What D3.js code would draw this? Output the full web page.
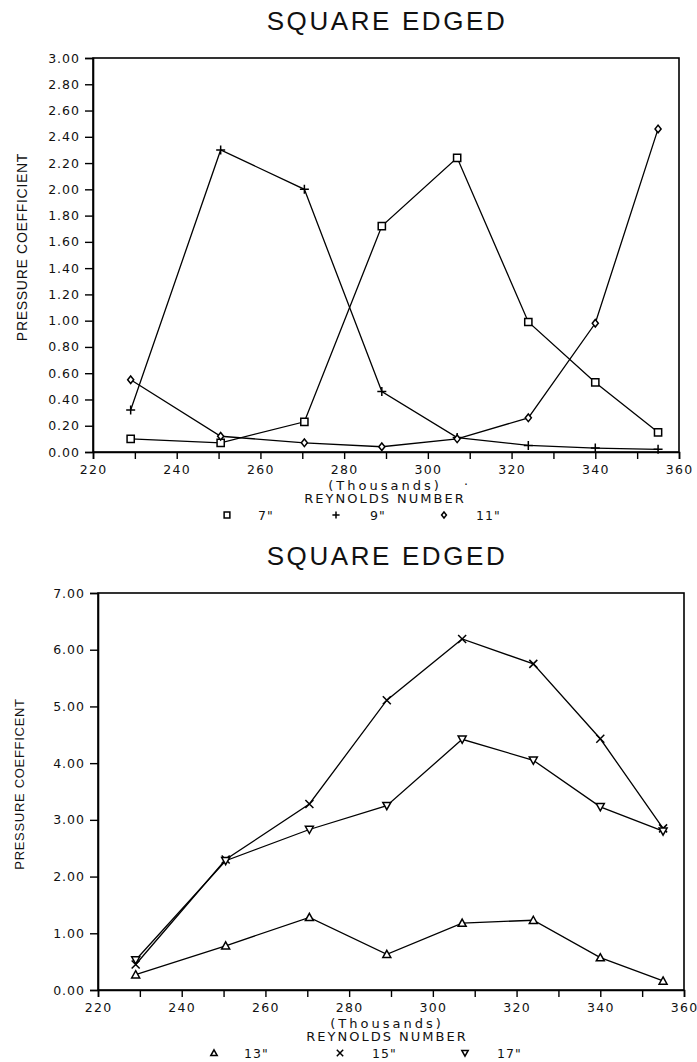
<!DOCTYPE html>
<html><head><meta charset="utf-8">
<script src="https://cdn.jsdelivr.net/npm/d3@7"></script>
<style>body{margin:0;background:#fff}</style>
</head><body>
<svg id="c" width="697" height="1062"></svg>
<script>
// ---- data ----
const reynolds = [229, 250.5, 270.5, 289, 307, 324, 340, 355]; // thousands
const xTickMinor = [220,230,240,250,260,270,280,290,300,310,320,330,340,350,360];
const xTickLabels = ["220","240","260","280","300","320","340","360"];
const topYTickLabels = ["0.00","0.20","0.40","0.60","0.80","1.00","1.20","1.40","1.60","1.80","2.00","2.20","2.40","2.60","2.80","3.00"];
const bottomYTickLabels = ["0.00","1.00","2.00","3.00","4.00","5.00","6.00","7.00"];

const top7in  = [0.10, 0.07, 0.23, 1.72, 2.24, 0.99, 0.53, 0.15];
const top9in  = [0.32, 2.30, 2.00, 0.46, 0.11, 0.05, 0.03, 0.02];
const top11in = [0.55, 0.12, 0.07, 0.04, 0.10, 0.26, 0.98, 2.46];

const bot13in = [0.27, 0.78, 1.28, 0.63, 1.18, 1.23, 0.57, 0.16];
const bot15in = [0.45, 2.30, 3.28, 5.11, 6.19, 5.75, 4.43, 2.85];
const bot17in = [0.53, 2.28, 2.83, 3.25, 4.42, 4.05, 3.23, 2.80];

const topLegendLabels = ['7"', '9"', '11"'];
const bottomLegendLabels = ['13"', '15"', '17"'];

// ---- symbols ----
const sym = {
  square: s => `M${-s},${-s}H${s}V${s}H${-s}Z`,
  plus: s => `M${-s},0H${s}M0,${-s}V${s}`,
  diamond: s => `M0,${-s}L${s*0.8},0L0,${s}L${-s*0.8},0Z`,
  triUp: s => `M0,${-s}L${s},${s*0.8}L${-s},${s*0.8}Z`,
  cross: s => `M${-s},${-s}L${s},${s}M${s},${-s}L${-s},${s}`,
  triDown: s => `M0,${s}L${s},${-s*0.8}L${-s},${-s*0.8}Z`
};
const symSize = {square:3.6, plus:4.5, diamond:3.8, triUp:4, cross:4, triDown:4};
const filled = {square:true, diamond:true, triUp:true, triDown:true, plus:false, cross:false};

const svg = d3.select("#c");
const numFont = "DejaVu Sans";
const labFont = "Liberation Sans, Arial, sans-serif";

function panel(cfg) {
  const x = d3.scaleLinear().domain([220, 360]).range([cfg.left, cfg.right]);
  const y = d3.scaleLinear().domain([0, cfg.yMax]).range([cfg.bottom, cfg.top]);
  const g = svg.append("g");

  // title
  g.append("text").attr("x", cfg.titleX).attr("y", cfg.titleY)
    .attr("text-anchor", "middle").attr("font-family", labFont)
    .attr("font-size", 26).attr("letter-spacing", 2.6).attr("fill", "#111")
    .text("SQUARE EDGED");

  // frame
  g.append("rect").attr("x", cfg.left).attr("y", cfg.top)
    .attr("width", cfg.right - cfg.left).attr("height", cfg.bottom - cfg.top)
    .attr("fill", "none").attr("stroke", "#000").attr("stroke-width", 1.6);

  // y axis
  const yVals = cfg.yLabels.map(d => +d);
  const ya = g.append("g").attr("transform", `translate(${cfg.left},0)`)
    .call(d3.axisLeft(y).tickValues(yVals).tickSize(8).tickPadding(5)
      .tickFormat((d, i) => cfg.yLabels[i]));
  ya.select(".domain").attr("stroke-width", 1.6);
  ya.selectAll(".tick line").attr("stroke-width", 1.4);
  ya.selectAll("text").attr("font-family", numFont).attr("font-size", 12.5)
    .attr("letter-spacing", 1).attr("fill", "#111");

  // x axis
  const xa = g.append("g").attr("transform", `translate(0,${cfg.bottom})`)
    .call(d3.axisBottom(x).tickValues(xTickMinor).tickSize(7).tickPadding(6)
      .tickFormat(d => { const i = xTickLabels.indexOf(String(d)); return i >= 0 ? xTickLabels[i] : ""; }));
  xa.select(".domain").attr("stroke-width", 1.6);
  xa.selectAll(".tick line").attr("stroke-width", 1.4);
  xa.selectAll("text").attr("font-family", numFont).attr("font-size", 12.5)
    .attr("letter-spacing", 1.3).attr("fill", "#111");

  // y axis title
  g.append("text").attr("transform", `translate(${cfg.yTitleX},${cfg.yTitleY}) rotate(-90)`)
    .attr("text-anchor", "middle").attr("font-family", labFont)
    .attr("font-size", cfg.yTitleSize).attr("letter-spacing", 0.7).attr("fill", "#111")
    .text(cfg.yTitle);

  // x axis titles
  g.append("text").attr("x", cfg.xTitleX).attr("y", cfg.bottom + 38)
    .attr("text-anchor", "middle").attr("font-family", numFont)
    .attr("font-size", 13).attr("letter-spacing", 3).attr("fill", "#111")
    .text("(Thousands)");
  if (cfg.dot) g.append("text").attr("x", cfg.dot).attr("y", cfg.bottom + 33)
    .attr("font-family", numFont).attr("font-size", 12.5).attr("fill", "#111").text(".");
  g.append("text").attr("x", cfg.xTitleX).attr("y", cfg.bottom + 51)
    .attr("text-anchor", "middle").attr("font-family", numFont)
    .attr("font-size", 13).attr("letter-spacing", 2).attr("fill", "#111")
    .text("REYNOLDS NUMBER");

  // series
  const line = d3.line().x((d, i) => x(reynolds[i])).y(d => y(d));
  cfg.series.forEach(s => {
    g.append("path").datum(s.values).attr("d", line)
      .attr("fill", "none").attr("stroke", "#000").attr("stroke-width", 1.3);
  });
  cfg.series.forEach(s => {
    g.selectAll(null).data(s.values).enter().append("path")
      .attr("transform", (d, i) => `translate(${x(reynolds[i])},${y(d)})`)
      .attr("d", sym[s.symbol](symSize[s.symbol]))
      .attr("fill", filled[s.symbol] ? "#fff" : "none")
      .attr("stroke", "#000").attr("stroke-width", 1.5);
  });

  // legend
  cfg.series.forEach((s, i) => {
    g.append("path").attr("transform", `translate(${cfg.legendSym[i]},${cfg.legendY})`)
      .attr("d", sym[s.symbol](symSize[s.symbol] * 0.8))
      .attr("fill", filled[s.symbol] ? "#fff" : "none")
      .attr("stroke", "#000").attr("stroke-width", 1.5);
    g.append("text").attr("x", cfg.legendText[i]).attr("y", cfg.legendY + 5)
      .attr("font-family", numFont).attr("font-size", 12.5).attr("letter-spacing", 1)
      .attr("fill", "#111").text(s.name);
  });
}

panel({
  left: 93, right: 679, top: 58, bottom: 452, yMax: 3,
  yLabels: topYTickLabels, titleX: 387, titleY: 30,
  yTitle: "PRESSURE COEFFICIENT", yTitleX: 27, yTitleY: 247, yTitleSize: 14,
  xTitleX: 385, dot: 464,
  legendY: 515, legendSym: [227, 336, 444], legendText: [258, 370, 476],
  series: [
    {name: topLegendLabels[0], values: top7in, symbol: "square"},
    {name: topLegendLabels[1], values: top9in, symbol: "plus"},
    {name: topLegendLabels[2], values: top11in, symbol: "diamond"}
  ]
});

panel({
  left: 98, right: 684, top: 593, bottom: 990, yMax: 7,
  yLabels: bottomYTickLabels, titleX: 387, titleY: 565,
  yTitle: "PRESSURE COEFFICENT", yTitleX: 24, yTitleY: 784, yTitleSize: 13,
  xTitleX: 387, dot: null,
  legendY: 1053, legendSym: [214, 340, 465], legendText: [244, 372, 497],
  series: [
    {name: bottomLegendLabels[0], values: bot13in, symbol: "triUp"},
    {name: bottomLegendLabels[1], values: bot15in, symbol: "cross"},
    {name: bottomLegendLabels[2], values: bot17in, symbol: "triDown"}
  ]
});
</script>
</body></html>
